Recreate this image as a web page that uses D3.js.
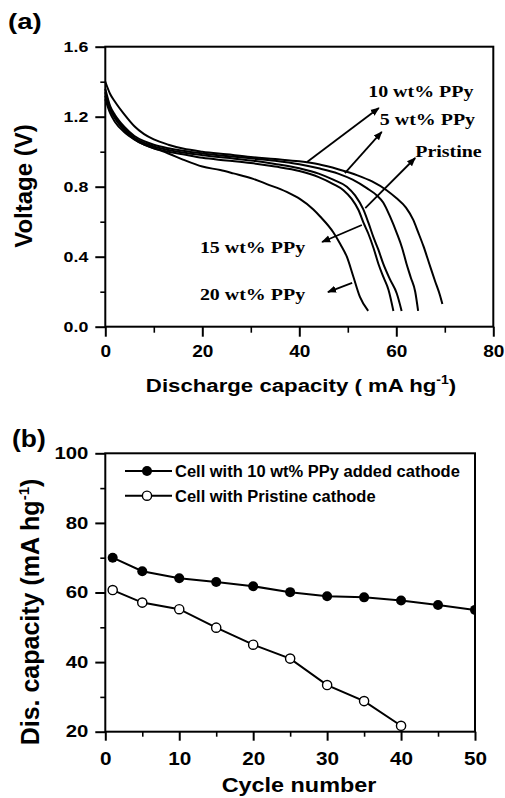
<!DOCTYPE html>
<html>
<head>
<meta charset="utf-8">
<script src="https://cdn.jsdelivr.net/npm/d3@7"></script>
<style>
  body { margin: 0; background: #fff; }
  svg { display: block; }
  .sans { font-family: "Liberation Sans", Arial, sans-serif; font-weight: bold; }
  .serif { font-family: "Liberation Serif", "Times New Roman", serif; font-weight: bold; }
</style>
</head>
<body>
<div id="chart"></div>
<script>
// panel (a): discharge curves, capacity (mA h/g) vs voltage (V)
const cap10wt = [0, 1, 2, 4, 6, 8, 10, 13, 16, 20, 25, 30, 35, 40, 44, 48, 52, 55, 58, 60, 62, 63.5, 64.5, 65.6, 66.8, 68, 69, 69.5]
const volt10wt = [1.40, 1.33, 1.285, 1.21, 1.145, 1.10, 1.07, 1.04, 1.018, 1.00, 0.985, 0.97, 0.958, 0.945, 0.928, 0.90, 0.865, 0.83, 0.78, 0.735, 0.68, 0.61, 0.54, 0.46, 0.36, 0.26, 0.18, 0.13]

const cap5wt = [0, 1, 2, 4, 6, 8, 10, 13, 16, 20, 25, 30, 35, 40, 44, 48, 51, 54, 56, 57.3, 58.7, 60.1, 61.2, 62.1, 63, 63.9, 64.5]
const volt5wt = [1.36, 1.26, 1.21, 1.14, 1.09, 1.06, 1.04, 1.02, 1.005, 0.99, 0.975, 0.962, 0.948, 0.928, 0.905, 0.875, 0.84, 0.79, 0.75, 0.71, 0.63, 0.535, 0.45, 0.36, 0.28, 0.2, 0.09]

const capPristine = [0, 1, 2, 4, 6, 8, 10, 13, 16, 20, 25, 30, 35, 40, 44, 47, 49.8, 51.5, 53.2, 54.3, 55.3, 56.3, 57.3, 58.7, 60.1, 61.1]
const voltPristine = [1.34, 1.25, 1.20, 1.13, 1.08, 1.05, 1.03, 1.01, 0.995, 0.98, 0.965, 0.95, 0.93, 0.905, 0.875, 0.84, 0.80, 0.75, 0.67, 0.59, 0.51, 0.44, 0.36, 0.27, 0.19, 0.09]

const cap15wt = [0, 1, 2, 4, 6, 8, 10, 13, 16, 20, 25, 30, 35, 40, 44, 47, 49.1, 50.8, 52.2, 53.3, 54.2, 55.3, 56.3, 57.4, 58.4, 59.4]
const volt15wt = [1.32, 1.24, 1.19, 1.12, 1.07, 1.04, 1.02, 1.00, 0.985, 0.965, 0.95, 0.935, 0.915, 0.89, 0.855, 0.815, 0.78, 0.73, 0.667, 0.59, 0.534, 0.45, 0.36, 0.28, 0.21, 0.09]

const cap20wt = [0, 1, 2, 4, 6, 8, 10, 13, 16, 20, 23.7, 26.4, 30.5, 33.3, 37.4, 40.1, 42.9, 44.3, 47, 48.5, 49.8, 51.1, 52.5, 54.2]
const volt20wt = [1.30, 1.22, 1.17, 1.11, 1.07, 1.04, 1.02, 0.99, 0.955, 0.915, 0.895, 0.876, 0.845, 0.815, 0.77, 0.73, 0.67, 0.63, 0.54, 0.47, 0.40, 0.29, 0.17, 0.09]

const curveNames = ["10 wt% PPy", "5 wt% PPy", "Pristine", "15 wt% PPy", "20 wt% PPy"]
const curveCaps = [cap10wt, cap5wt, capPristine, cap15wt, cap20wt]
const curveVolts = [volt10wt, volt5wt, voltPristine, volt15wt, volt20wt]

// annotation arrows (data units): from curve -> to label side
const arrowFromCap = [41.6, 49.4, 53.6, 52.9, 50.9]
const arrowFromV = [0.941, 0.878, 0.678, 0.581, 0.25]
const arrowToCap = [56.4, 57.0, 63.9, 44.7, 45.9]
const arrowToV = [1.25, 1.113, 0.964, 0.484, 0.198]
const labelCap = [54.2, 56.6, 63.9, 19.5, 19.5]
const labelV = [1.312, 1.153, 0.970, 0.421, 0.153]

const aXTicks = [0, 20, 40, 60, 80]
const aXMinor = [10, 30, 50, 70]
const aYTicks = [0.0, 0.4, 0.8, 1.2, 1.6]
const aYMinor = [0.2, 0.6, 1.0, 1.4]

// panel (b): cycling
const cycles10wt = [1, 5, 10, 15, 20, 25, 30, 35, 40, 45, 50]
const disCap10wt = [70.0, 66.1, 64.1, 63.0, 61.8, 60.1, 58.9, 58.6, 57.7, 56.4, 55.0]
const cyclesPristine = [1, 5, 10, 15, 20, 25, 30, 35, 40]
const disCapPristine = [60.7, 57.1, 55.2, 49.9, 45.0, 41.0, 33.4, 28.8, 21.7]
const legendLabels = ["Cell with 10 wt% PPy added cathode", "Cell with Pristine cathode"]

const bXTicks = [0, 10, 20, 30, 40, 50]
const bXMinor = [5, 15, 25, 35, 45]
const bYTicks = [20, 40, 60, 80, 100]
const bYMinor = [30, 50, 70, 90]

const width = 505
const height = 798

const svg = d3.select("#chart").append("svg").attr("width", width).attr("height", height)
svg.append("rect").attr("width", width).attr("height", height).attr("fill", "#fff")

// stretch text horizontally (the source figure's lettering is wide)
function widen(sel, k) {
    sel.each(function() {
        const w = this.getComputedTextLength()
        this.setAttribute("textLength", w * k)
        this.setAttribute("lengthAdjust", "spacingAndGlyphs")
    })
}

function styleAxis(g, major) {
    g.select(".domain").remove()
    g.selectAll(".tick line").attr("stroke", "#000").attr("stroke-width", major ? 2 : 1.6)
    g.selectAll("text").attr("fill", "#000")
}

// ---------- panel (a) ----------
const aL = 105.3, aR = 493.3, aT = 46.7, aB = 326.7
const xa = d3.scaleLinear().domain([0, 80]).range([aL, aR])
const ya = d3.scaleLinear().domain([0, 1.6]).range([aB, aT])

const gaxm = svg.append("g").attr("transform", `translate(0,${aB})`).attr("class", "sans")
    .call(d3.axisBottom(xa).tickValues(aXTicks).tickSize(10).tickPadding(8).tickFormat(d3.format("d")))
gaxm.attr("font-size", 17)
styleAxis(gaxm, true)
widen(gaxm.selectAll("text"), 1.12)
const gaxn = svg.append("g").attr("transform", `translate(0,${aB})`)
    .call(d3.axisBottom(xa).tickValues(aXMinor).tickSize(6).tickFormat(""))
styleAxis(gaxn, false)

const gaym = svg.append("g").attr("transform", `translate(${aL},0)`).attr("class", "sans")
    .call(d3.axisLeft(ya).tickValues(aYTicks).tickSize(10).tickPadding(7).tickFormat(d3.format(".1f")))
gaym.attr("font-size", 14)
styleAxis(gaym, true)
widen(gaym.selectAll("text"), 1.27)
const gayn = svg.append("g").attr("transform", `translate(${aL},0)`)
    .call(d3.axisLeft(ya).tickValues(aYMinor).tickSize(5).tickFormat(""))
styleAxis(gayn, false)

svg.append("rect").attr("x", aL).attr("y", aT).attr("width", aR - aL).attr("height", aB - aT)
    .attr("fill", "none").attr("stroke", "#000").attr("stroke-width", 2)

const lineA = d3.line().x(d => xa(d[0])).y(d => ya(d[1])).curve(d3.curveMonotoneX)
curveCaps.forEach((caps, i) => {
    const pts = caps.map((c, j) => [c, curveVolts[i][j]])
    svg.append("path").datum(pts).attr("d", lineA).attr("fill", "none")
        .attr("stroke", "#000").attr("stroke-width", 2)
})

svg.append("defs").append("marker").attr("id", "arrow").attr("viewBox", "0 0 10 10")
    .attr("refX", 9).attr("refY", 5).attr("markerWidth", 5).attr("markerHeight", 5)
    .attr("orient", "auto").append("path").attr("d", "M0,1 L10,5 L0,9 z").attr("fill", "#000")

curveNames.forEach((name, i) => {
    svg.append("line")
        .attr("x1", xa(arrowFromCap[i])).attr("y1", ya(arrowFromV[i]))
        .attr("x2", xa(arrowToCap[i])).attr("y2", ya(arrowToV[i]))
        .attr("stroke", "#000").attr("stroke-width", 1.8).attr("marker-end", "url(#arrow)")
    const t = svg.append("text").attr("class", "serif").attr("font-size", 17.5)
        .attr("x", xa(labelCap[i])).attr("y", ya(labelV[i])).text(name)
    widen(t, 1.14)
})

const tA = svg.append("text").attr("class", "sans").attr("font-size", 22).attr("x", 8).attr("y", 29).text("(a)")
widen(tA, 1.25)

const xTitleA = svg.append("text").attr("class", "sans").attr("font-size", 19).attr("text-anchor", "middle")
    .attr("transform", `translate(301,392) scale(1.17,1)`)
xTitleA.append("tspan").text("Discharge capacity ( mA hg")
xTitleA.append("tspan").attr("font-size", 12).attr("dy", -8).text("-1")
xTitleA.append("tspan").attr("dy", 8).text(")")

svg.append("text").attr("class", "sans").attr("font-size", 24).attr("text-anchor", "middle")
    .attr("transform", "translate(32,186) rotate(-90)").text("Voltage (V)")

// ---------- panel (b) ----------
const bL = 105.3, bR = 475, bT = 453.3, bB = 731.7
const xb = d3.scaleLinear().domain([0, 50]).range([bL, bR])
const yb = d3.scaleLinear().domain([20, 100]).range([bB, bT])

const gbxm = svg.append("g").attr("transform", `translate(0,${bB})`).attr("class", "sans")
    .call(d3.axisBottom(xb).tickValues(bXTicks).tickSize(9).tickPadding(12).tickFormat(d3.format("d")))
gbxm.attr("font-size", 18)
styleAxis(gbxm, true)
widen(gbxm.selectAll("text"), 1.15)
const gbxn = svg.append("g").attr("transform", `translate(0,${bB})`)
    .call(d3.axisBottom(xb).tickValues(bXMinor).tickSize(5).tickFormat(""))
styleAxis(gbxn, false)

const gbym = svg.append("g").attr("transform", `translate(${bL},0)`).attr("class", "sans")
    .call(d3.axisLeft(yb).tickValues(bYTicks).tickSize(10).tickPadding(7).tickFormat(d3.format("d")))
gbym.attr("font-size", 16)
styleAxis(gbym, true)
widen(gbym.selectAll("text"), 1.27)
const gbyn = svg.append("g").attr("transform", `translate(${bL},0)`)
    .call(d3.axisLeft(yb).tickValues(bYMinor).tickSize(5).tickFormat(""))
styleAxis(gbyn, false)

svg.select("defs").append("clipPath").attr("id", "clipB").append("rect")
    .attr("x", bL).attr("y", bT).attr("width", bR - bL).attr("height", bB - bT)

const plotB = svg.append("g").attr("clip-path", "url(#clipB)")
const lineB = d3.line().x(d => xb(d[0])).y(d => yb(d[1]))

const series10 = cycles10wt.map((c, i) => [c, disCap10wt[i]])
const seriesPr = cyclesPristine.map((c, i) => [c, disCapPristine[i]])

plotB.append("path").datum(series10).attr("d", lineB).attr("fill", "none").attr("stroke", "#000").attr("stroke-width", 2)
plotB.append("path").datum(seriesPr).attr("d", lineB).attr("fill", "none").attr("stroke", "#000").attr("stroke-width", 2)
plotB.selectAll(".dotF").data(series10).enter().append("circle")
    .attr("cx", d => xb(d[0])).attr("cy", d => yb(d[1])).attr("r", 5).attr("fill", "#000")
plotB.selectAll(".dotO").data(seriesPr).enter().append("circle")
    .attr("cx", d => xb(d[0])).attr("cy", d => yb(d[1])).attr("r", 4.6)
    .attr("fill", "#fff").attr("stroke", "#000").attr("stroke-width", 1.4)

svg.append("rect").attr("x", bL).attr("y", bT).attr("width", bR - bL).attr("height", bB - bT)
    .attr("fill", "none").attr("stroke", "#000").attr("stroke-width", 2)

// legend
legendLabels.forEach((lab, i) => {
    const ly = 471 + i * 24.7
    svg.append("line").attr("x1", 125).attr("x2", 172).attr("y1", ly).attr("y2", ly)
        .attr("stroke", "#000").attr("stroke-width", 2)
    svg.append("circle").attr("cx", 147).attr("cy", ly).attr("r", i === 0 ? 5 : 4.6)
        .attr("fill", i === 0 ? "#000" : "#fff").attr("stroke", "#000").attr("stroke-width", i === 0 ? 0 : 1.4)
    const t = svg.append("text").attr("class", "sans").attr("font-size", 16)
        .attr("x", 175).attr("y", ly + 5.8).text(lab)
    widen(t, 1.03)
})

const tB = svg.append("text").attr("class", "sans").attr("font-size", 24).attr("x", 12).attr("y", 447).text("(b)")
widen(tB, 1.1)

svg.append("text").attr("class", "sans").attr("font-size", 20).attr("text-anchor", "middle")
    .attr("transform", "translate(299,792) scale(1.17,1)").text("Cycle number")

const yTitleB = svg.append("text").attr("class", "sans").attr("font-size", 25).attr("text-anchor", "middle")
    .attr("transform", "translate(39,612) rotate(-90)")
yTitleB.append("tspan").text("Dis. capacity (mA hg")
yTitleB.append("tspan").attr("font-size", 15).attr("dy", -10).text("-1")
yTitleB.append("tspan").attr("dy", 10).text(")")
</script>
</body>
</html>
